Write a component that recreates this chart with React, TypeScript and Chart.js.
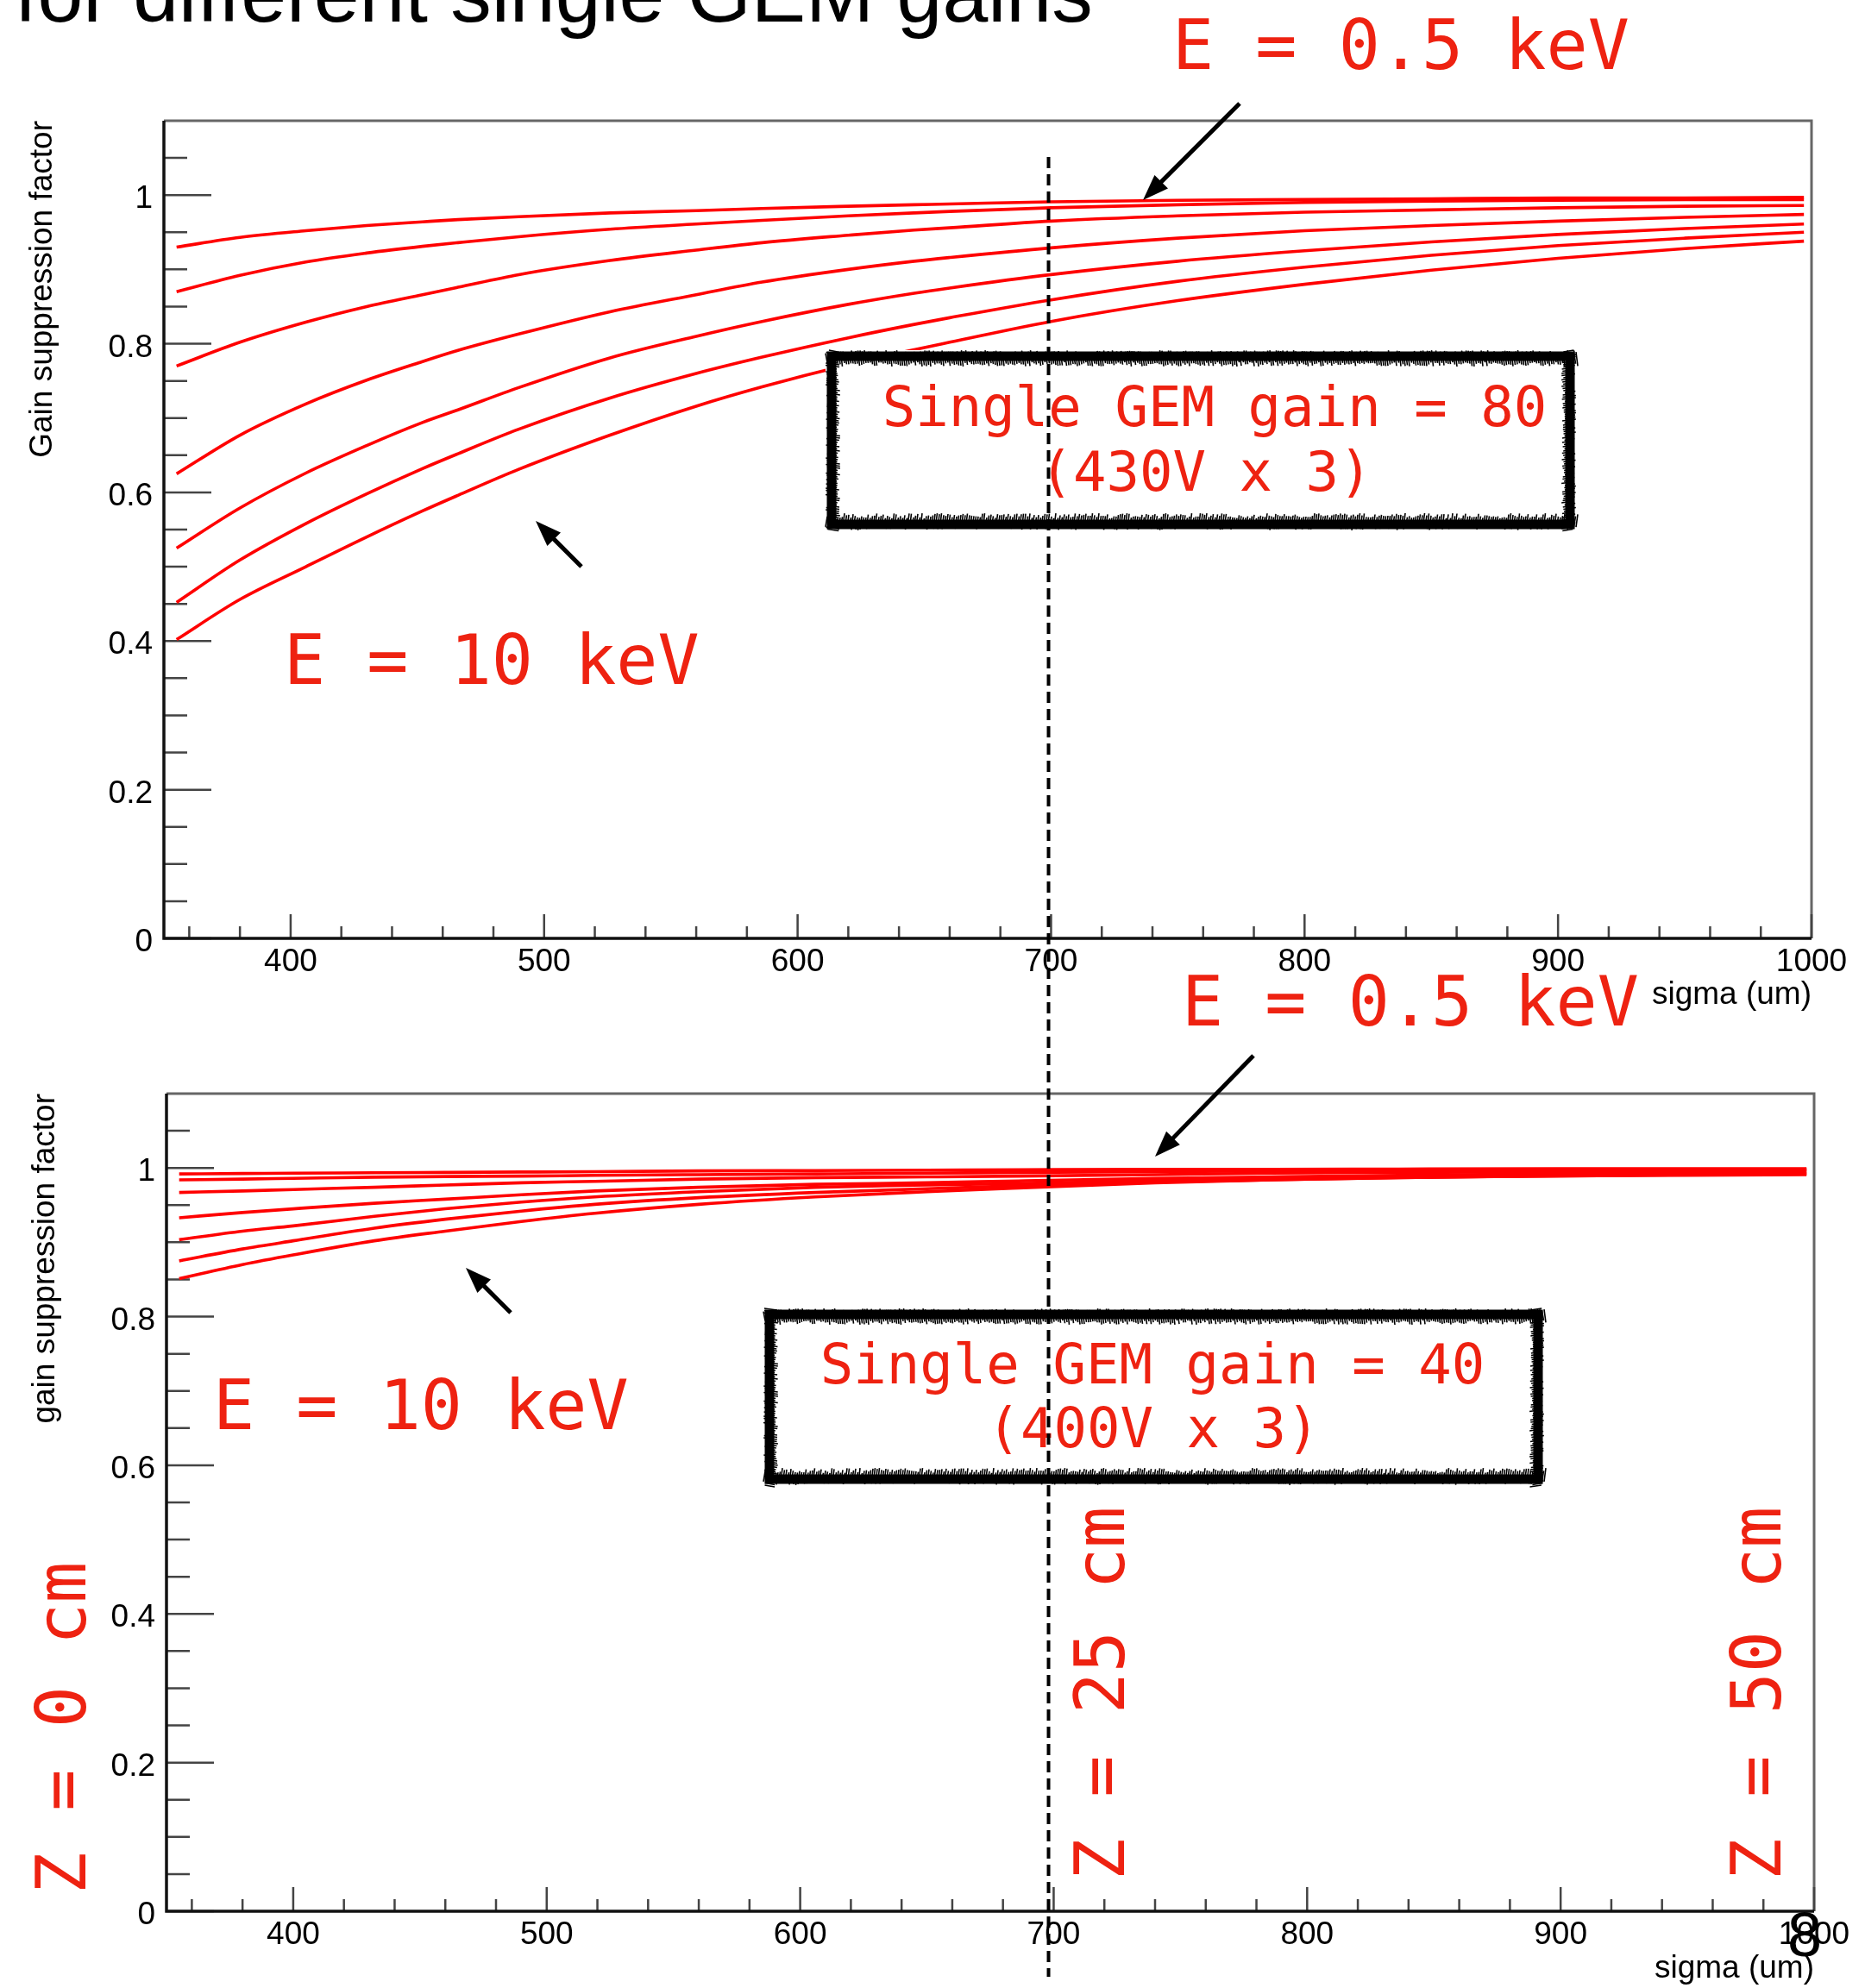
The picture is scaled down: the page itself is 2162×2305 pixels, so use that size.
import React, { useEffect, useRef } from 'react';
import { Chart, registerables } from 'chart.js';

Chart.register(...registerables);

// ---------- data ----------
const X_TICK_LABELS = [400, 500, 600, 700, 800, 900, 1000];
const Y_TICK_LABELS = [0, 0.2, 0.4, 0.6, 0.8, 1];

// Upper panel: single GEM gain = 80 (430V x 3)
const SIGMA_TOP = [355, 380, 406, 430, 452, 466, 490, 526, 560, 586, 620, 646, 660, 700, 750, 800, 850, 900, 950, 997];
const TOP_C1 = [0.930, 0.943, 0.952, 0.959, 0.964, 0.967, 0.971, 0.976, 0.979, 0.982, 0.985, 0.987, 0.988, 0.991, 0.993, 0.994, 0.995, 0.996, 0.996, 0.997];
const TOP_C2 = [0.870, 0.892, 0.910, 0.922, 0.931, 0.936, 0.944, 0.954, 0.961, 0.966, 0.972, 0.976, 0.978, 0.983, 0.987, 0.990, 0.992, 0.993, 0.994, 0.994];
const TOP_C3 = [0.770, 0.802, 0.829, 0.850, 0.866, 0.876, 0.893, 0.912, 0.926, 0.936, 0.946, 0.953, 0.956, 0.965, 0.972, 0.977, 0.980, 0.983, 0.985, 0.986];
const TOP_C4 = [0.625, 0.677, 0.719, 0.751, 0.776, 0.791, 0.813, 0.843, 0.866, 0.883, 0.900, 0.911, 0.916, 0.929, 0.942, 0.952, 0.959, 0.965, 0.970, 0.974];
const TOP_C5 = [0.525, 0.579, 0.626, 0.663, 0.694, 0.711, 0.741, 0.781, 0.810, 0.830, 0.853, 0.868, 0.875, 0.893, 0.911, 0.925, 0.937, 0.947, 0.955, 0.961];
const TOP_C6 = [0.452, 0.509, 0.558, 0.598, 0.632, 0.652, 0.685, 0.727, 0.760, 0.782, 0.808, 0.826, 0.835, 0.859, 0.884, 0.903, 0.919, 0.932, 0.942, 0.950];
const TOP_C7 = [0.402, 0.456, 0.500, 0.540, 0.575, 0.596, 0.631, 0.677, 0.716, 0.742, 0.772, 0.792, 0.802, 0.830, 0.858, 0.880, 0.899, 0.915, 0.928, 0.938];

// Lower panel: single GEM gain = 40 (400V x 3)
const SIGMA_BOTTOM = [355, 380, 400, 432, 460, 490, 519, 560, 606, 650, 686, 740, 786, 836, 900, 950, 997];
const BOT_C1 = [0.992, 0.9925, 0.993, 0.9935, 0.994, 0.9945, 0.995, 0.996, 0.9965, 0.997, 0.9975, 0.998, 0.998, 0.9985, 0.999, 0.999, 0.999];
const BOT_C2 = [0.984, 0.985, 0.986, 0.9876, 0.9885, 0.989, 0.990, 0.991, 0.992, 0.993, 0.994, 0.995, 0.996, 0.9965, 0.997, 0.998, 0.998];
const BOT_C3 = [0.967, 0.969, 0.971, 0.974, 0.977, 0.980, 0.982, 0.985, 0.987, 0.988, 0.989, 0.991, 0.993, 0.994, 0.995, 0.996, 0.997];
const BOT_C4 = [0.933, 0.940, 0.945, 0.9525, 0.958, 0.964, 0.969, 0.974, 0.978, 0.980, 0.9826, 0.986, 0.988, 0.990, 0.992, 0.994, 0.995];
const BOT_C5 = [0.9035, 0.915, 0.922, 0.935, 0.945, 0.954, 0.961, 0.968, 0.974, 0.977, 0.979, 0.983, 0.986, 0.988, 0.990, 0.992, 0.993];
const BOT_C6 = [0.875, 0.891, 0.902, 0.919, 0.931, 0.942, 0.951, 0.960, 0.967, 0.972, 0.976, 0.981, 0.984, 0.987, 0.989, 0.991, 0.992];
const BOT_C7 = [0.851, 0.870, 0.883, 0.902, 0.915, 0.928, 0.939, 0.951, 0.961, 0.968, 0.973, 0.980, 0.984, 0.987, 0.9895, 0.990, 0.991];

const TOP_CURVES = [TOP_C1, TOP_C2, TOP_C3, TOP_C4, TOP_C5, TOP_C6, TOP_C7];
const BOT_CURVES = [BOT_C1, BOT_C2, BOT_C3, BOT_C4, BOT_C5, BOT_C6, BOT_C7];

// ---------- styling ----------
const SANS = "'Liberation Sans', Arial, Helvetica, sans-serif";
const MONO = "'DejaVu Sans Mono', monospace";
const RED_TEXT = '#ee2211';

const rootFrame = {
  id: 'rootFrame',
  beforeDatasetsDraw(chart: any) {
    const { ctx, chartArea: a, scales } = chart;
    const x = scales.x, y = scales.y;
    ctx.save();
    // grey top/right frame
    ctx.strokeStyle = '#666';
    ctx.lineWidth = 3;
    ctx.beginPath();
    ctx.moveTo(a.left, a.top);
    ctx.lineTo(a.right, a.top);
    ctx.lineTo(a.right, a.bottom);
    ctx.stroke();
    // ticks (inward, ROOT style)
    ctx.strokeStyle = '#444';
    ctx.lineWidth = 2.5;
    ctx.beginPath();
    for (let v = 360; v <= 1000; v += 20) {
      const px = x.getPixelForValue(v);
      const len = v % 100 === 0 ? 28 : 14;
      ctx.moveTo(px, a.bottom);
      ctx.lineTo(px, a.bottom - len);
    }
    for (let k = 0; k <= 21; k++) {
      const v = k * 0.05;
      const py = y.getPixelForValue(v);
      const len = k % 4 === 0 ? 55 : 27;
      ctx.moveTo(a.left, py);
      ctx.lineTo(a.left + len, py);
    }
    ctx.stroke();
    // black axes
    ctx.strokeStyle = '#111';
    ctx.lineWidth = 3.5;
    ctx.beginPath();
    ctx.moveTo(a.left, a.top);
    ctx.lineTo(a.left, a.bottom);
    ctx.lineTo(a.right, a.bottom);
    ctx.stroke();
    ctx.restore();
  },
};

function makeConfig(p: {
  sigma: number[];
  curves: number[][];
  yWidth: number;
  xHeight: number;
  padTop: number;
  padRight: number;
  yTitle: string;
  yTitlePad: number;
  xTitlePad: number;
}): any {
  const font = { family: SANS, size: 37 };
  return {
    type: 'line',
    data: {
      datasets: p.curves.map((c, i) => ({
        label: 'curve ' + (i + 1),
        data: p.sigma.map((s, j) => ({ x: s, y: c[j] })),
        borderColor: '#ff0000',
        borderWidth: 3.6,
        pointRadius: 0,
        fill: false,
        cubicInterpolationMode: 'monotone',
      })),
    },
    options: {
      responsive: false,
      animation: false,
      devicePixelRatio: 1,
      layout: { padding: { left: 0, top: p.padTop, right: p.padRight, bottom: 0 } },
      plugins: { legend: { display: false }, tooltip: { enabled: false } },
      scales: {
        x: {
          type: 'linear',
          min: 350,
          max: 1000,
          grid: { display: false, drawTicks: false },
          border: { display: false },
          afterBuildTicks: (s: any) => {
            s.ticks = X_TICK_LABELS.map((v) => ({ value: v }));
          },
          afterFit: (s: any) => {
            s.height = p.xHeight;
          },
          ticks: {
            font,
            color: '#000',
            padding: 6,
            maxRotation: 0,
            autoSkip: false,
            callback: (v: any) => String(v),
          },
          title: {
            display: true,
            text: 'sigma (um)',
            align: 'end',
            font,
            color: '#000',
            padding: { top: 0, bottom: p.xTitlePad },
          },
        },
        y: {
          type: 'linear',
          min: 0,
          max: 1.1,
          grid: { display: false, drawTicks: false },
          border: { display: false },
          afterBuildTicks: (s: any) => {
            s.ticks = Y_TICK_LABELS.map((v) => ({ value: v }));
          },
          afterFit: (s: any) => {
            s.width = p.yWidth;
          },
          ticks: {
            font,
            color: '#000',
            padding: 13,
            labelOffset: 5,
            autoSkip: false,
            callback: (v: any) => String(v),
          },
          title: {
            display: true,
            text: p.yTitle,
            align: 'end',
            font,
            color: '#000',
            padding: { top: p.yTitlePad, bottom: 0 },
          },
        },
      },
    },
    plugins: [rootFrame],
  };
}

function jitter(k: number) {
  const s = Math.sin(k * 12.9898) * 43758.5453;
  return s - Math.floor(s);
}

function roughBox(ctx: CanvasRenderingContext2D, l: number, t: number, r: number, b: number) {
  ctx.save();
  ctx.fillStyle = '#fff';
  ctx.fillRect(l, t, r - l, b - t);
  ctx.strokeStyle = '#000';
  ctx.lineWidth = 11;
  ctx.strokeRect(l + 7, t + 7, r - l - 14, b - t - 14);
  ctx.lineWidth = 1.6;
  ctx.beginPath();
  let k = 1;
  for (let xx = l; xx <= r; xx += 2.5) {
    const a1 = jitter(k++) * 4, a2 = jitter(k++) * 5;
    ctx.moveTo(xx, t + a1); ctx.lineTo(xx + 2, t + 14 + a2);
    const b1 = jitter(k++) * 4, b2 = jitter(k++) * 6;
    ctx.moveTo(xx, b - a1 * 0.5 - b1); ctx.lineTo(xx + 2, b - 14 - b2);
  }
  for (let yy = t; yy <= b; yy += 2.5) {
    const a1 = jitter(k++) * 4, a2 = jitter(k++) * 4;
    ctx.moveTo(l + a1, yy); ctx.lineTo(l + 13 + a2, yy + 2);
    const b1 = jitter(k++) * 4, b2 = jitter(k++) * 4;
    ctx.moveTo(r - b1, yy); ctx.lineTo(r - 13 - b2, yy + 2);
  }
  ctx.stroke();
  ctx.restore();
}

function arrow(ctx: CanvasRenderingContext2D, x1: number, y1: number, x2: number, y2: number) {
  const ang = Math.atan2(y2 - y1, x2 - x1);
  const hl = 30, hw = 11;
  const bx = x2 - hl * Math.cos(ang), by = y2 - hl * Math.sin(ang);
  ctx.save();
  ctx.strokeStyle = '#000';
  ctx.fillStyle = '#000';
  ctx.lineWidth = 5;
  ctx.beginPath();
  ctx.moveTo(x1, y1);
  ctx.lineTo(bx + 4 * Math.cos(ang), by + 4 * Math.sin(ang));
  ctx.stroke();
  ctx.beginPath();
  ctx.moveTo(x2, y2);
  ctx.lineTo(bx + hw * Math.sin(ang), by - hw * Math.cos(ang));
  ctx.lineTo(bx - hw * Math.sin(ang), by + hw * Math.cos(ang));
  ctx.closePath();
  ctx.fill();
  ctx.restore();
}

function redText(ctx: CanvasRenderingContext2D, text: string, x: number, y: number, size: number, align: CanvasTextAlign = 'left') {
  ctx.save();
  ctx.font = `${size}px ${MONO}`;
  ctx.fillStyle = RED_TEXT;
  ctx.textAlign = align;
  ctx.textBaseline = 'alphabetic';
  ctx.fillText(text, x, y);
  ctx.restore();
}

function rotatedRed(ctx: CanvasRenderingContext2D, text: string, x: number, y: number) {
  ctx.save();
  ctx.translate(x, y);
  ctx.rotate(-Math.PI / 2);
  ctx.font = `80px ${MONO}`;
  ctx.fillStyle = RED_TEXT;
  ctx.textAlign = 'left';
  ctx.textBaseline = 'alphabetic';
  ctx.fillText(text, 0, 0);
  ctx.restore();
}

function drawOverlay(canvas: HTMLCanvasElement, top: any) {
  const ctx = canvas.getContext('2d')!;
  ctx.clearRect(0, 0, canvas.width, canvas.height);

  // slide title (cut off at top)
  ctx.save();
  ctx.font = `95px ${SANS}`;
  ctx.fillStyle = '#000';
  ctx.fillText('for different single GEM gains', 17, 25);
  ctx.restore();

  // upper panel annotations
  redText(ctx, 'E = 0.5 keV', 1359, 80, 80);
  arrow(ctx, 1437, 120, 1325, 232);
  redText(ctx, 'E = 10 keV', 329, 793, 80);
  arrow(ctx, 674, 657, 621, 604);
  roughBox(ctx, 957, 406, 1827, 615);
  redText(ctx, 'Single GEM gain = 80', 1408, 494, 64, 'center');
  redText(ctx, '(430V x 3)', 1398, 569, 64, 'center');

  // lower panel annotations
  redText(ctx, 'E = 0.5 keV', 1370, 1189, 80);
  arrow(ctx, 1453, 1224, 1339, 1341);
  redText(ctx, 'E = 10 keV', 247, 1657, 80);
  arrow(ctx, 592, 1522, 540, 1470);
  roughBox(ctx, 885, 1517, 1790, 1722);
  redText(ctx, 'Single GEM gain = 40', 1336, 1604, 64, 'center');
  redText(ctx, '(400V x 3)', 1337, 1678, 64, 'center');

  rotatedRed(ctx, 'Z = 0 cm', 99, 2196);
  rotatedRed(ctx, 'Z = 25 cm', 1303, 2180);
  rotatedRed(ctx, 'Z = 50 cm', 2064, 2180);

  // slide page number
  ctx.save();
  ctx.font = `72px ${SANS}`;
  ctx.fillStyle = '#000';
  ctx.textAlign = 'center';
  ctx.fillText('8', 2092, 2268);
  ctx.restore();

  // dashed vertical line at sigma = 700 um
  const xLine = top.scales.x.getPixelForValue(699);
  ctx.save();
  ctx.strokeStyle = '#000';
  ctx.lineWidth = 4;
  ctx.setLineDash([13, 7]);
  ctx.beginPath();
  ctx.moveTo(xLine, 182);
  ctx.lineTo(xLine, 2292);
  ctx.stroke();
  ctx.restore();
}

const BOTTOM_TOP = 1120;

export default function App() {
  const topRef = useRef<HTMLCanvasElement>(null);
  const botRef = useRef<HTMLCanvasElement>(null);
  const overRef = useRef<HTMLCanvasElement>(null);

  useEffect(() => {
    document.body.style.margin = '0';
    const top = new Chart(
      topRef.current!,
      makeConfig({
        sigma: SIGMA_TOP,
        curves: TOP_CURVES,
        yWidth: 190,
        xHeight: 1200 - 1088,
        padTop: 140,
        padRight: 2162 - 2100,
        yTitle: 'Gain suppression factor',
        yTitlePad: 28,
        xTitlePad: 24,
      })
    );
    const bot = new Chart(
      botRef.current!,
      makeConfig({
        sigma: SIGMA_BOTTOM,
        curves: BOT_CURVES,
        yWidth: 193,
        xHeight: 2305 - 2216,
        padTop: 1268 - BOTTOM_TOP,
        padRight: 2162 - 2103,
        yTitle: 'gain suppression factor',
        yTitlePad: 31,
        xTitlePad: 0,
      })
    );
    drawOverlay(overRef.current!, top);
    return () => {
      top.destroy();
      bot.destroy();
    };
  }, []);

  return (
    <div style={{ position: 'relative', width: 2162, height: 2305, background: '#fff', overflow: 'hidden' }}>
      <canvas
        ref={topRef}
        width={2162}
        height={1200}
        style={{ position: 'absolute', left: 0, top: 0, width: 2162, height: 1200 }}
      />
      <canvas
        ref={botRef}
        width={2162}
        height={2305 - BOTTOM_TOP}
        style={{ position: 'absolute', left: 0, top: BOTTOM_TOP, width: 2162, height: 2305 - BOTTOM_TOP }}
      />
      <canvas
        ref={overRef}
        width={2162}
        height={2305}
        style={{ position: 'absolute', left: 0, top: 0, width: 2162, height: 2305, pointerEvents: 'none' }}
      />
    </div>
  );
}
